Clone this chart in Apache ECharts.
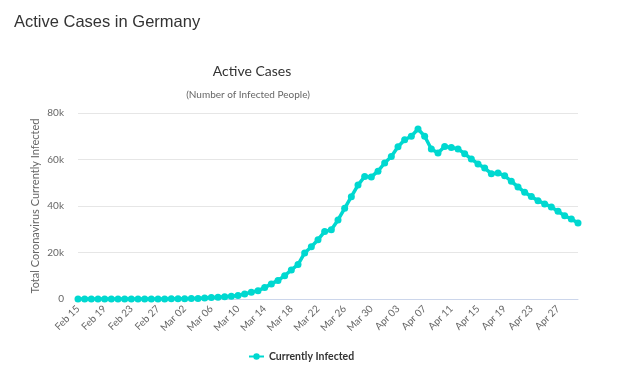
<!DOCTYPE html>
<html>
<head>
<meta charset="utf-8">
<script src="https://cdn.jsdelivr.net/npm/echarts@6/dist/echarts.min.js"></script>
<style>
html,body{margin:0;padding:0;background:#fff;}
#c{width:624px;height:385px;}
</style>
</head>
<body>
<div id="c"></div>
<script>
var categories = [
  "Feb 15","Feb 16","Feb 17","Feb 18","Feb 19","Feb 20","Feb 21","Feb 22","Feb 23","Feb 24",
  "Feb 25","Feb 26","Feb 27","Feb 28","Feb 29",
  "Mar 01","Mar 02","Mar 03","Mar 04","Mar 05","Mar 06","Mar 07","Mar 08","Mar 09","Mar 10",
  "Mar 11","Mar 12","Mar 13","Mar 14","Mar 15","Mar 16","Mar 17","Mar 18","Mar 19","Mar 20",
  "Mar 21","Mar 22","Mar 23","Mar 24","Mar 25","Mar 26","Mar 27","Mar 28","Mar 29","Mar 30","Mar 31",
  "Apr 01","Apr 02","Apr 03","Apr 04","Apr 05","Apr 06","Apr 07","Apr 08","Apr 09","Apr 10",
  "Apr 11","Apr 12","Apr 13","Apr 14","Apr 15","Apr 16","Apr 17","Apr 18","Apr 19","Apr 20",
  "Apr 21","Apr 22","Apr 23","Apr 24","Apr 25","Apr 26","Apr 27","Apr 28","Apr 29","Apr 30"
];
var currentlyInfected = [
  14,14,14,14,14,14,14,14,14,14,
  14,16,17,31,54,
  113,142,180,244,466,653,780,1008,1160,1500,
  2200,2900,3600,4900,6500,8000,10000,12500,14800,19800,
  22500,25500,29000,29800,34000,39000,44000,49000,52700,52500,55000,
  58500,61300,65500,68500,70000,73100,70000,64500,62800,65600,
  65200,64500,62500,60200,58100,56300,53900,54200,53000,50600,
  48200,45900,44100,42300,40900,39600,37700,35800,34400,32700
];
var yTicks = [0, 20000, 40000, 60000, 80000];

var chart = echarts.init(document.getElementById('c'), null, {renderer: 'canvas'});
chart.setOption({
  backgroundColor: '#ffffff',
  animation: false,
  title: [
    {text: 'Active Cases in Germany', left: 14, top: 14, padding: 0,
     textStyle: {fontFamily: 'Liberation Sans', fontSize: 16.5, fontWeight: 'normal', color: '#333333'}},
    {text: 'Active Cases', left: 252, top: 64, padding: 0, textAlign: 'center',
     textStyle: {fontFamily: 'Lato', fontSize: 14, fontWeight: 'normal', color: '#333333'}},
    {text: '(Number of Infected People)', left: 248, top: 90, padding: 0, textAlign: 'center',
     textStyle: {fontFamily: 'Lato', fontSize: 10, fontWeight: 'normal', color: '#666666'}}
  ],
  legend: {
    data: ['Currently Infected'],
    left: 248, top: 351, padding: 0,
    itemWidth: 15, itemHeight: 8, itemGap: 3,
    textStyle: {fontFamily: 'Lato', fontSize: 10.5, fontWeight: 'bold', color: '#333333'}
  },
  grid: {left: 78, right: 46, top: 113, bottom: 86},
  xAxis: {
    type: 'category',
    data: categories,
    boundaryGap: false,
    axisLine: {lineStyle: {color: '#ccd6eb'}},
    axisTick: {show: false},
    axisLabel: {interval: 3, rotate: 45, margin: 8, color: '#666666', fontFamily: 'Lato', fontSize: 10}
  },
  yAxis: {
    type: 'value',
    min: 0, max: 80000, interval: 20000,
    name: 'Total Coronavirus Currently Infected',
    nameLocation: 'middle', nameRotate: 90, nameGap: 37,
    nameMoveOverlap: false,
    nameTextStyle: {color: '#666666', fontFamily: 'Lato', fontSize: 11},
    axisLine: {show: false},
    axisTick: {show: false},
    splitLine: {lineStyle: {color: '#e6e6e6'}},
    axisLabel: {
      margin: 14, color: '#666666', fontFamily: 'Lato', fontSize: 10,
      formatter: function (v) { return v === 0 ? '0' : (v / 1000) + 'k'; }
    }
  },
  series: [{
    name: 'Currently Infected',
    type: 'line',
    data: currentlyInfected,
    symbol: 'circle',
    symbolSize: 7,
    showSymbol: true,
    showAllSymbol: true,
    lineStyle: {width: 3.5, color: '#00d8d0'},
    itemStyle: {color: '#00d8d0'}
  }]
});
</script>
</body>
</html>
